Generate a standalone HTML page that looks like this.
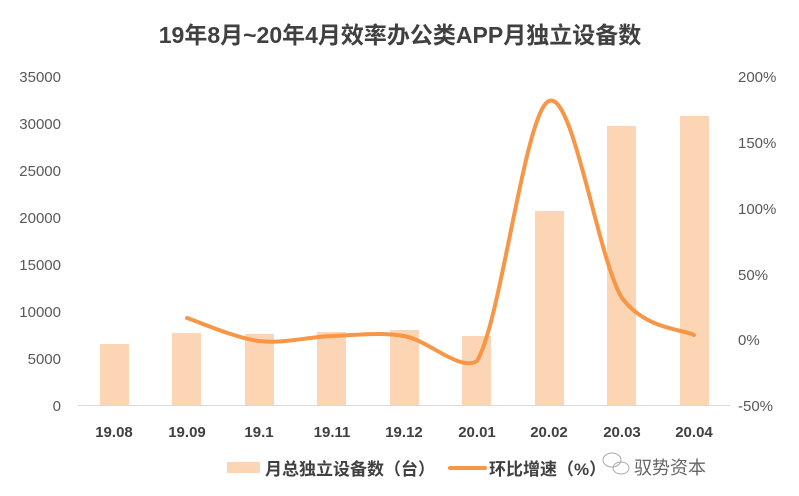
<!DOCTYPE html>
<html><head><meta charset="utf-8"><style>
html,body{margin:0;padding:0;background:#fff;}
svg{display:block;font-family:"Liberation Sans","Noto Sans CJK SC",sans-serif;}
</style></head><body>
<svg width="799" height="496" viewBox="0 0 799 496">
<text x="400" y="43" text-anchor="middle" font-size="23" font-weight="bold" fill="#404040">19年8月~20年4月效率办公类APP月独立设备数</text>
<g font-size="15" fill="#595959" text-anchor="end">
<text x="61" y="82">35000</text><text x="61" y="129">30000</text><text x="61" y="176">25000</text>
<text x="61" y="223">20000</text><text x="61" y="270">15000</text><text x="61" y="317">10000</text>
<text x="61" y="364">5000</text><text x="61" y="411">0</text>
</g>
<g font-size="15" fill="#595959" text-anchor="start">
<text x="738" y="82">200%</text><text x="738" y="148">150%</text><text x="738" y="214">100%</text>
<text x="738" y="280">50%</text><text x="738" y="345">0%</text><text x="738" y="411">-50%</text>
</g>
<g fill="#fcd5b4">
<rect x="100" y="344" width="29" height="61"/>
<rect x="172" y="333" width="29" height="72"/>
<rect x="245" y="334" width="29" height="71"/>
<rect x="317" y="332" width="29" height="73"/>
<rect x="390" y="330" width="29" height="75"/>
<rect x="462" y="336" width="29" height="69"/>
<rect x="535" y="211" width="29" height="194"/>
<rect x="607" y="126" width="29" height="279"/>
<rect x="680" y="116" width="29" height="289"/>
</g>
<line x1="78" y1="405.5" x2="730" y2="405.5" stroke="#d9d9d9" stroke-width="1"/>
<path d="M187,318 C199,321.8 234.8,338 259,341 C283.2,344 307.8,336.8 332,336 C356.2,335.2 379.8,331.8 404,336 C428.2,340.2 460,372 477,361 C501.2,321.8 524.8,111.5 549,101 C573.2,90.5 597.8,259 622,298 C646.2,330 682,328.8 694,335" fill="none" stroke="#f79646" stroke-width="4" stroke-linecap="round"/>
<g font-size="15" font-weight="bold" fill="#404040" text-anchor="middle">
<text x="114" y="437">19.08</text><text x="187" y="437">19.09</text><text x="259" y="437">19.1</text>
<text x="332" y="437">19.11</text><text x="404" y="437">19.12</text><text x="477" y="437">20.01</text>
<text x="549" y="437">20.02</text><text x="622" y="437">20.03</text><text x="694" y="437">20.04</text>
</g>
<rect x="227" y="462" width="33" height="11" fill="#fcd5b4"/>
<text x="265" y="475" font-size="17" font-weight="bold" fill="#404040">月总独立设备数（台）</text>
<line x1="450" y1="468" x2="485" y2="468" stroke="#f79646" stroke-width="4" stroke-linecap="round"/>
<text x="489" y="475" font-size="17" font-weight="bold" fill="#404040">环比增速（%）</text>
<g fill="none" stroke="#aaa" stroke-width="1">
<ellipse cx="612" cy="460" rx="9" ry="7"/><ellipse cx="621" cy="468" rx="8" ry="6"/>
</g>
<text x="634" y="474" font-size="18" fill="#666">驭势资本</text>
</svg>
</body></html>
